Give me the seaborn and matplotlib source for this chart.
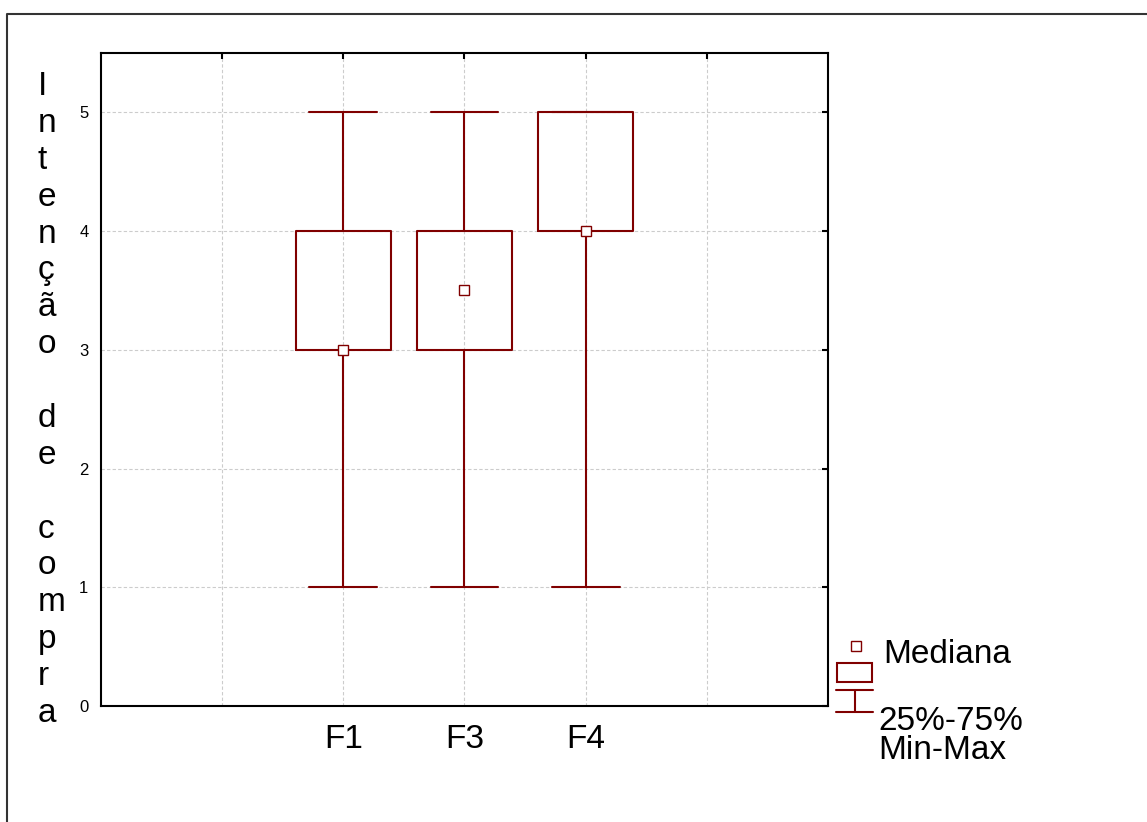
#!/usr/bin/env python3
"""Box plot: intencao de compra por grupo (estilo Statistica)"""
import pandas as pd
import matplotlib
matplotlib.use("Agg")
import matplotlib.pyplot as plt
from matplotlib.patches import Rectangle
import seaborn as sns

# valores
categorias = ["F1", "F3", "F4"]
minimos = [1, 1, 1]
q25 = [3, 3, 4]
medianas = [3, 3.5, 4]
q75 = [4, 4, 5]
maximos = [5, 5, 5]

RED = "#800000"

# cinco numeros por grupo -> boxplot com whis=(0, 100) reproduz min/q1/med/q3/max
linhas = []
for i, cat in enumerate(categorias):
    for v in (minimos[i], q25[i], medianas[i], q75[i], maximos[i]):
        linhas.append({"grupo": cat, "valor": v})
df = pd.DataFrame(linhas)

sns.set_style("white")
plt.rcParams["font.family"] = ["Liberation Sans", "DejaVu Sans"]
plt.rcParams["text.color"] = "black"
plt.rcParams["xtick.color"] = "black"
plt.rcParams["ytick.color"] = "black"

fig = plt.figure(figsize=(11.47, 8.22), dpi=100)
ax = fig.add_axes([101 / 1147, 1 - 706 / 822, (828 - 101) / 1147, (706 - 53) / 822])

sns.boxplot(data=df, x="grupo", y="valor", order=categorias, whis=(0, 100),
            width=0.78, fill=False, color=RED, linewidth=1.5, capwidths=0.56,
            medianprops=dict(visible=False), ax=ax, zorder=3)
sns.pointplot(x=categorias, y=medianas, order=categorias, errorbar=None,
              marker="s", linestyle="none", color=RED, markerfacecolor="white",
              markeredgecolor=RED, markersize=6.5, markeredgewidth=1.0,
              ax=ax, zorder=5)

ax.set_xlim(-2, 4)
ax.set_ylim(0, 5.5)
ax.set_xticks([-1, 0, 1, 2, 3])
ax.set_xticklabels(["", "F1", "F3", "F4", ""], fontsize=24, color="black")
ax.set_yticks([0, 1, 2, 3, 4, 5])
ax.set_yticklabels(["0", "1", "2", "3", "4", "5"], fontsize=12, color="black")
ax.set_xlabel("")
ax.set_ylabel("")
ax.tick_params(axis="both", direction="in", length=4, width=1.5, color="black",
               top=True, right=True)
ax.tick_params(axis="x", pad=13)
ax.tick_params(axis="y", pad=9)
ax.grid(True, color="#cccccc", linestyle=(0, (3, 2)), linewidth=0.8)
ax.set_axisbelow(True)
for s in ax.spines.values():
    s.set_visible(True)
    s.set_color("black")
    s.set_linewidth(1.5)

# camada em pixels para moldura, rotulo do eixo y e legenda
lax = fig.add_axes([0, 0, 1, 1])
lax.set_xlim(0, 1147)
lax.set_ylim(822, 0)
lax.axis("off")

lax.plot([7, 7, 1160], [840, 14, 14], color="#333333", lw=1.5, clip_on=False)

rotulo = "Intenção de compra"
lax.text(38, 71, "\n".join(rotulo), fontsize=24, ha="left", va="top",
         multialignment="left", linespacing=1.245, color="black")

# legenda
lax.plot([855.5], [645.5], marker="s", ms=6.5, mfc="white", mec=RED, mew=1.0,
         linestyle="none")
lax.add_patch(Rectangle((837, 663), 35, 19, fill=False, ec=RED, lw=1.5))
lax.plot([836, 873], [690, 690], color=RED, lw=1.5)
lax.plot([855, 855], [690, 712], color=RED, lw=1.5)
lax.plot([836, 873], [712, 712], color=RED, lw=1.5)
lax.text(883, 654, "Mediana", fontsize=24, ha="left", va="center", color="black")
lax.text(878, 721, "25%-75%", fontsize=24, ha="left", va="center", color="black")
lax.text(878, 750, "Min-Max", fontsize=24, ha="left", va="center", color="black")

plt.savefig("out.png", dpi=100)
